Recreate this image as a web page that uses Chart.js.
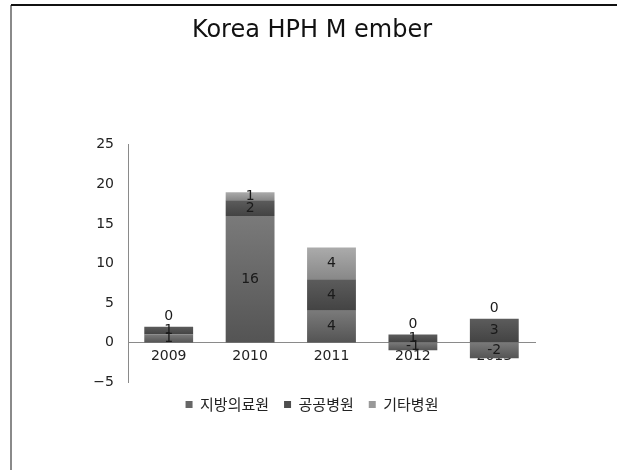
<!DOCTYPE html>
<html>
<head>
<meta charset="utf-8">
<script src="https://cdn.jsdelivr.net/npm/chart.js@4/dist/chart.umd.min.js"></script>
<style>
  html, body { margin: 0; padding: 0; background: #fff; }
  #wrap { width: 618px; height: 470px; position: relative; }
</style>
</head>
<body>
<div id="wrap"><canvas id="graf"></canvas></div>
<script>
// dados do grafico
var anos = ["2009", "2010", "2011", "2012", "2013"];
var nomesSeries = ["지방의료원", "공공병원", "기타병원"];
var jibang = [1, 16, 4, -1, -2];
var gonggong = [1, 2, 4, 1, 3];
var gita = [0, 1, 4, 0, 0];
var yTicks = [-5, 0, 5, 10, 15, 20, 25];

var series = [jibang, gonggong, gita];
var coresTopo = ["#7a7a7a", "#5c5c5c", "#ababab"];
var coresBase = ["#545454", "#434343", "#888888"];
var coresLegenda = ["#666666", "#4e4e4e", "#999999"];

Chart.defaults.font.family = "'DejaVu Sans', 'Noto Sans CJK KR', sans-serif";
Chart.defaults.color = "#222";

// inicio e fim de cada segmento empilhado (positivos e negativos separados)
function limites(ds, i) {
  var v = series[ds][i];
  var base = 0;
  for (var j = 0; j < ds; j++) {
    var w = series[j][i];
    if ((v < 0 && w < 0) || (v >= 0 && w >= 0)) base += w;
  }
  return [base, base + v];
}

// gradiente vertical em cada segmento
function corBarra(ctx) {
  var ds = ctx.datasetIndex, i = ctx.dataIndex;
  var chart = ctx.chart;
  if (!chart.chartArea || !chart.scales.y) return coresLegenda[ds];
  var lim = limites(ds, i);
  var y1 = chart.scales.y.getPixelForValue(lim[0]);
  var y2 = chart.scales.y.getPixelForValue(lim[1]);
  var topo = Math.min(y1, y2), fundo = Math.max(y1, y2);
  if (fundo - topo < 1) return coresLegenda[ds];
  var g = chart.ctx.createLinearGradient(0, topo, 0, fundo);
  g.addColorStop(0, coresTopo[ds]);
  g.addColorStop(1, coresBase[ds]);
  return g;
}

var moldura = {
  id: "moldura",
  beforeDraw: function (chart) {
    var c = chart.ctx;
    c.save();
    c.fillStyle = "#fff";
    c.fillRect(0, 0, chart.width, chart.height);
    c.fillStyle = "#8a8a8a";
    c.fillRect(10, 5, 2, chart.height - 5);
    c.fillStyle = "#111";
    c.fillRect(11, 4, chart.width - 12, 2);
    c.restore();
  }
};

var rotulos = {
  id: "rotulos",
  afterDatasetsDraw: function (chart) {
    var c = chart.ctx;
    var ys = chart.scales.y;
    c.save();
    c.font = "14px 'DejaVu Sans', sans-serif";
    c.fillStyle = "#1a1a1a";
    c.textAlign = "center";
    c.textBaseline = "middle";
    chart.data.datasets.forEach(function (d, ds) {
      var meta = chart.getDatasetMeta(ds);
      meta.data.forEach(function (bar, i) {
        var v = d.data[i];
        var y;
        if (v === 0) {
          // zero fica em cima da pilha positiva
          var topoPos = 0;
          series.forEach(function (s) { if (s[i] > 0) topoPos += s[i]; });
          y = ys.getPixelForValue(topoPos) - 10.5;
        } else {
          var lim = limites(ds, i);
          y = (ys.getPixelForValue(lim[0]) + ys.getPixelForValue(lim[1])) / 2;
        }
        c.fillText(String(v), bar.x, y);
      });
    });
    c.restore();
  }
};

var grafico = new Chart(document.getElementById("graf"), {
  type: "bar",
  data: {
    labels: anos,
    datasets: series.map(function (s, k) {
      return {
        label: nomesSeries[k],
        data: s,
        backgroundColor: corBarra,
        borderWidth: 0,
        barPercentage: 0.6,
        categoryPercentage: 1
      };
    })
  },
  options: {
    responsive: true,
    maintainAspectRatio: false,
    animation: false,
    layout: { padding: { left: 89, right: 83, top: 0, bottom: 48 } },
    plugins: {
      title: {
        display: true,
        text: "Korea HPH M ember",
        color: "#111",
        font: { size: 24, weight: "normal" },
        padding: { top: 16, bottom: 100 }
      },
      legend: {
        position: "bottom",
        labels: {
          boxWidth: 7,
          boxHeight: 7,
          padding: 15,
          color: "#222",
          font: { size: 15, family: "'Noto Sans CJK KR', sans-serif" },
          generateLabels: function (chart) {
            var itens = Chart.defaults.plugins.legend.labels.generateLabels(chart);
            itens.forEach(function (it, k) {
              it.fillStyle = coresLegenda[k];
              it.strokeStyle = coresLegenda[k];
              it.lineWidth = 0;
            });
            return itens;
          }
        }
      },
      tooltip: { enabled: false }
    },
    scales: {
      x: {
        stacked: true,
        position: { y: 0 },
        grid: { display: false, drawTicks: false },
        border: { display: true, color: "#8a8a8a", width: 1 },
        ticks: { padding: 5, font: { size: 14 }, color: "#222" }
      },
      y: {
        stacked: true,
        min: -5,
        max: 25,
        grid: { display: false, drawTicks: false },
        border: { display: true, color: "#8a8a8a", width: 1 },
        afterFit: function (scale) { scale.width = 39; },
        afterBuildTicks: function (scale) {
          scale.ticks = yTicks.map(function (t) { return { value: t }; });
        },
        ticks: {
          padding: 14,
          font: { size: 14 },
          color: "#222",
          callback: function (v) { return String(v).replace("-", "\u2212"); }
        }
      }
    }
  },
  plugins: [moldura, rotulos]
});
</script>
</body>
</html>
